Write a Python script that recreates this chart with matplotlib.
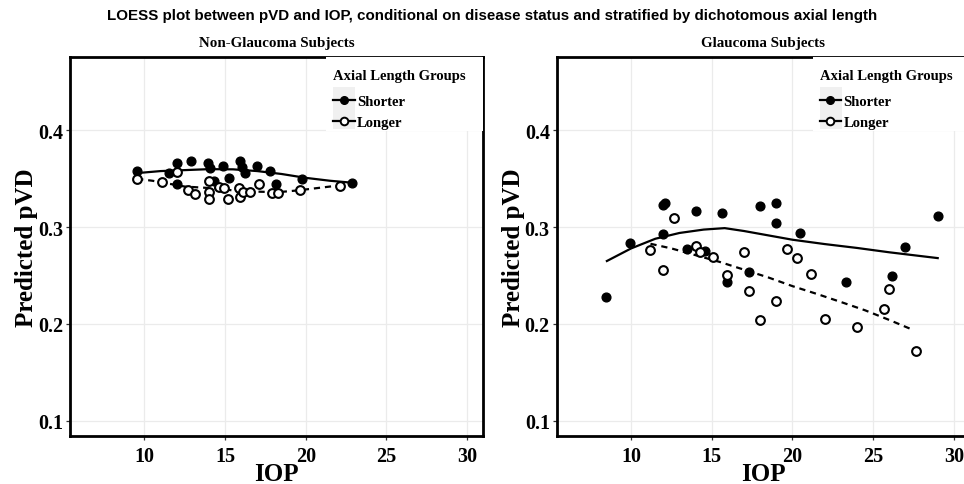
from __future__ import annotations

import matplotlib

matplotlib.use("Agg")
import matplotlib.pyplot as plt
from matplotlib.lines import Line2D
from matplotlib.patches import Rectangle


# Non-glaucoma subjects, shorter axial length (filled)
ng_short_iop = [9.57, 11.5, 12.0, 12.05, 12.9, 13.95, 14.05, 14.3, 14.9, 15.25,
                15.95, 16.05, 16.25, 17.0, 17.8, 18.15, 19.75, 22.85]
ng_short_pvd = [0.358, 0.356, 0.366, 0.345, 0.368, 0.366, 0.361, 0.348, 0.363, 0.351,
                0.368, 0.362, 0.356, 0.363, 0.358, 0.345, 0.350, 0.346]

# Non-glaucoma subjects, longer axial length (open)
ng_long_iop = [9.55, 11.1, 12.0, 12.7, 13.15, 14.0, 14.0, 14.0, 14.6, 14.95,
               15.2, 15.85, 15.9, 16.1, 16.55, 17.1, 17.9, 18.3, 19.65, 22.1]
ng_long_pvd = [0.350, 0.347, 0.357, 0.338, 0.334, 0.348, 0.336, 0.329, 0.342, 0.341,
               0.329, 0.341, 0.331, 0.336, 0.336, 0.345, 0.335, 0.335, 0.338, 0.343]

# LOESS curves, non-glaucoma
ng_short_fit_iop = [9.6, 11.0, 12.5, 14.0, 15.5, 17.0, 18.5, 20.0, 21.5, 22.85]
ng_short_fit_pvd = [0.356, 0.358, 0.359, 0.360, 0.3598, 0.358, 0.355, 0.351, 0.348, 0.346]
ng_long_fit_iop = [9.55, 10.5, 11.5, 12.5, 13.5, 14.5, 15.5, 16.5, 17.5, 18.5,
                   19.5, 20.5, 21.5, 22.1]
ng_long_fit_pvd = [0.350, 0.348, 0.345, 0.342, 0.341, 0.340, 0.338, 0.337, 0.3365, 0.3365,
                   0.338, 0.340, 0.342, 0.343]

# Glaucoma subjects, shorter axial length (filled)
g_short_iop = [8.47, 9.96, 11.99, 12.07, 11.99, 13.48, 14.0, 14.61, 15.65, 15.96,
               17.3, 17.99, 18.98, 18.98, 20.47, 23.31, 26.17, 27.0, 29.0]
g_short_pvd = [0.228, 0.284, 0.323, 0.325, 0.293, 0.277, 0.317, 0.275, 0.315, 0.243,
               0.254, 0.322, 0.325, 0.304, 0.294, 0.243, 0.249, 0.279, 0.312]

# Glaucoma subjects, longer axial length (open)
g_long_iop = [11.2, 11.99, 12.65, 14.0, 14.3, 15.09, 15.96, 17.0, 17.3, 17.99,
              18.98, 19.65, 20.31, 21.14, 22.0, 23.98, 25.65, 26.0, 27.66]
g_long_pvd = [0.276, 0.256, 0.309, 0.281, 0.274, 0.269, 0.250, 0.274, 0.234, 0.204,
              0.224, 0.277, 0.268, 0.252, 0.205, 0.197, 0.215, 0.236, 0.172]

# LOESS curves, glaucoma
g_short_fit_iop = [8.5, 10.0, 11.5, 13.0, 14.5, 15.8, 17.0, 18.5, 20.0, 22.0,
                   24.0, 26.0, 27.5, 29.0]
g_short_fit_pvd = [0.265, 0.278, 0.288, 0.294, 0.2975, 0.299, 0.296, 0.2915, 0.287, 0.2825,
                   0.2785, 0.274, 0.271, 0.268]
g_long_fit_iop = [11.2, 12.5, 14.0, 15.5, 17.0, 18.5, 20.0, 21.5, 23.0, 24.5, 26.0, 27.5]
g_long_fit_pvd = [0.2828, 0.278, 0.271, 0.264, 0.256, 0.248, 0.239, 0.231, 0.2226, 0.214,
                  0.204, 0.1935]

x_ticks = [10, 15, 20, 25, 30]
y_ticks = [0.1, 0.2, 0.3, 0.4]
group_labels = ["Shorter", "Longer"]
panel_titles = ["Non-Glaucoma Subjects", "Glaucoma Subjects"]
main_title = ("LOESS plot between pVD and IOP, conditional on disease status "
              "and stratified by dichotomous axial length")

SERIF = "Liberation Serif"
SANS = "Liberation Sans"


def draw_panel(ax, title, s_x, s_y, l_x, l_y, sf_x, sf_y, lf_x, lf_y) -> None:
    ax.grid(True, color="#ebebeb", linewidth=0.9)
    ax.set_axisbelow(True)
    ax.plot(sf_x, sf_y, color="black", linewidth=1.6, zorder=2)
    ax.plot(lf_x, lf_y, color="black", linewidth=1.6, linestyle=(0, (2.8, 2.2)), zorder=2)
    ax.plot(s_x, s_y, "o", color="black", markersize=6.3, zorder=3)
    ax.plot(l_x, l_y, "o", markerfacecolor="white", markeredgecolor="black",
            markeredgewidth=1.5, markersize=6.3, zorder=3)

    ax.set_xlim(5.39, 31.0)
    ax.set_ylim(0.084, 0.476)
    ax.set_xticks(x_ticks)
    ax.set_yticks(y_ticks)
    ax.set_xticklabels([str(t) for t in x_ticks], fontfamily=SERIF, fontweight="bold", fontsize=14.5)
    ax.set_yticklabels([f"{t:.1f}" for t in y_ticks], fontfamily=SERIF, fontweight="bold", fontsize=14.5)
    ax.tick_params(length=3, width=0.9, color="#333333", pad=2)
    ax.tick_params(axis="x", pad=4)
    for sp in ax.spines.values():
        sp.set_linewidth(2.0)
        sp.set_color("black")

    ax.set_xlabel("IOP", fontfamily=SERIF, fontweight="bold", fontsize=18, labelpad=-3)
    ax.set_ylabel("Predicted pVD", fontfamily=SERIF, fontweight="bold", fontsize=18, labelpad=0)
    ax.set_title(title, fontfamily=SERIF, fontweight="bold", fontsize=10.8, pad=8)

    # legend background: white box hiding the grid, grey strip behind the keys
    ax.add_patch(Rectangle((0.62, 0.805), 0.38, 0.195, transform=ax.transAxes,
                           facecolor="white", edgecolor="none", zorder=4))
    ax.add_patch(Rectangle((0.636, 0.810), 0.054, 0.111, transform=ax.transAxes,
                           facecolor="#f0f0f0", edgecolor="none", zorder=5))

    handles = [
        Line2D([], [], color="black", linewidth=1.6, marker="o", markersize=5.5),
        Line2D([], [], color="black", linewidth=1.6, marker="o", markersize=5.5,
               markerfacecolor="white", markeredgewidth=1.4),
    ]
    leg = ax.legend(handles, group_labels, title="Axial Length Groups",
                    loc="upper left", bbox_to_anchor=(0.636, 0.969),
                    prop={"family": SERIF, "weight": "bold", "size": 10.5},
                    title_fontproperties={"family": SERIF, "weight": "bold", "size": 10.5},
                    alignment="left", frameon=False,
                    handlelength=1.5, handletextpad=0.15, labelspacing=0.55,
                    borderpad=0.0, borderaxespad=0.0)
    # a little more room between the legend title and the keys
    leg._legend_box.sep = 0.55 * 10.5 + 3.5
    leg.set_zorder(7)


def main() -> None:
    fig = plt.figure(figsize=(9.64, 4.85), dpi=100)
    ax1 = fig.add_axes([0.0726, 0.099, 0.4287, 0.7814])
    ax2 = fig.add_axes([0.5775, 0.099, 0.4287, 0.7814])

    draw_panel(ax1, panel_titles[0], ng_short_iop, ng_short_pvd, ng_long_iop, ng_long_pvd,
               ng_short_fit_iop, ng_short_fit_pvd, ng_long_fit_iop, ng_long_fit_pvd)
    draw_panel(ax2, panel_titles[1], g_short_iop, g_short_pvd, g_long_iop, g_long_pvd,
               g_short_fit_iop, g_short_fit_pvd, g_long_fit_iop, g_long_fit_pvd)

    fig.text(0.5107, 0.966, main_title, ha="center", va="center",
             fontfamily=SANS, fontweight="bold", fontsize=10.9)
    fig.savefig("out.png", dpi=100)
    plt.close(fig)


if __name__ == "__main__":
    main()
